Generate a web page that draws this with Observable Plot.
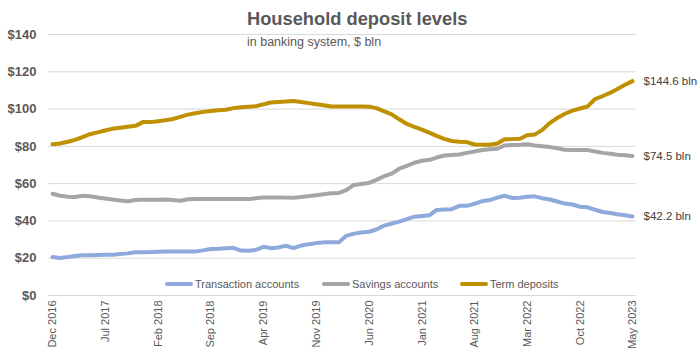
<!DOCTYPE html>
<html>
<head>
<meta charset="utf-8">
<script src="https://cdn.jsdelivr.net/npm/d3@7"></script>
<script src="https://cdn.jsdelivr.net/npm/@observablehq/plot@0.6"></script>
<style>
  body { margin: 0; background: #fff; font-family: "Liberation Sans", Arial, sans-serif; }
  #wrap { position: relative; width: 699px; height: 357px; overflow: hidden; }
  #title { position: absolute; left: 247px; top: 8px; font-weight: bold; font-size: 18.3px; color: #595959; white-space: nowrap; }
  #subtitle { position: absolute; left: 247px; top: 35px; font-size: 12.5px; color: #595959; white-space: nowrap; }
  #legend { position: absolute; top: 278px; left: 0; width: 699px; height: 16px; font-size: 11px; color: #595959; }
  .item { position: absolute; display: flex; align-items: center; white-space: nowrap; }
  .sw { display: inline-block; width: 28px; height: 4px; border-radius: 2px; margin-right: 2px; }
</style>
</head>
<body>
<div id="wrap">
  <div id="chart"></div>
  <div id="title">Household deposit levels</div>
  <div id="subtitle">in banking system, $ bln</div>
  <div id="legend"></div>
</div>
<script>
// Categories: monthly, Dec 2016 .. May 2023
const firstMonth = "2016-12";
const lastMonth = "2023-05";
const xTickLabels = ["Dec 2016","Jul 2017","Feb 2018","Sep 2018","Apr 2019","Nov 2019","Jun 2020","Jan 2021","Aug 2021","Mar 2022","Oct 2022","May 2023"];
const yTicks = [0, 20, 40, 60, 80, 100, 120, 140];

const seriesNames = ["Transaction accounts", "Savings accounts", "Term deposits"];
const seriesColors = ["#8EA9DB", "#A5A5A5", "#BF9000"];
const endLabels = ["$42.2 bln", "$74.5 bln", "$144.6 bln"];

const transaction = [20.7,20.1,20.6,21.2,21.6,21.6,21.7,21.8,21.8,22.2,22.6,23.2,23.2,23.3,23.5,23.6,23.6,23.6,23.6,23.6,
  24.2,24.9,25.1,25.4,25.6,24.1,24.0,24.4,26.1,25.4,25.8,26.7,25.4,26.8,27.5,28.1,28.5,28.5,28.5,32.0,
  33.2,33.8,34.2,35.4,37.5,38.6,39.6,41.0,42.3,42.7,43.1,45.9,46.1,46.3,48.1,48.1,49.2,50.6,51.2,52.5,
  53.5,52.3,52.4,53.0,53.2,52.2,51.5,50.4,49.3,48.8,47.6,47.3,46.0,44.8,44.3,43.6,43.0,42.4];
const savings = [54.6,53.5,53.0,52.8,53.5,53.2,52.6,52.0,51.5,51.0,50.6,51.2,51.4,51.4,51.4,51.5,51.2,50.8,51.6,51.7,
  51.7,51.7,51.7,51.7,51.7,51.7,51.7,52.2,52.6,52.6,52.6,52.5,52.4,52.8,53.3,53.8,54.3,54.8,55.0,56.5,
  59.3,59.8,60.4,62.0,64.0,65.4,68.0,69.5,71.2,72.3,72.8,74.0,75.1,75.4,75.6,76.5,77.2,78.0,78.5,78.7,
  80.5,80.7,80.8,81.1,80.5,80.1,79.6,79.0,78.2,78.0,78.0,78.0,77.2,76.5,76.0,75.5,75.2,74.8];
const term = [81.1,81.5,82.5,83.5,85.0,86.5,87.5,88.5,89.5,90.0,90.5,91.0,93.0,93.0,93.5,94.0,94.7,95.8,97.0,97.8,
  98.5,99.0,99.4,99.6,100.5,101.0,101.3,101.5,102.5,103.5,103.8,104.0,104.3,103.8,103.2,102.6,102.0,101.4,101.4,101.4,
  101.4,101.4,101.3,100.5,98.8,97.2,94.5,92.0,90.5,89.0,87.2,85.6,84.0,82.9,82.5,82.3,81.0,80.9,80.9,81.5,
  83.8,83.9,84.1,86.0,86.3,88.7,92.5,95.2,97.5,99.2,100.3,101.4,105.4,107.0,108.8,110.8,113.0,115.0];

const parseYM = d3.utcParse("%Y-%m");
const parseLabel = d3.utcParse("%b %Y");
const months = d3.utcMonth.range(parseYM(firstMonth), d3.utcMonth.offset(parseYM(lastMonth), 1));
const seriesValues = [transaction, savings, term];

const rows = [];
seriesNames.forEach((name, s) => {
  months.forEach((date, i) => rows.push({series: name, date, value: seriesValues[s][i]}));
});
const lastRows = seriesNames.map((name, s) => ({
  series: name, date: months[months.length - 1], value: seriesValues[s][months.length - 1], label: endLabels[s]
}));

const chart = Plot.plot({
  width: 699,
  height: 357,
  marginLeft: 48,
  marginRight: 63,
  marginTop: 34,
  marginBottom: 62,
  insetLeft: 4,
  insetRight: 4,
  style: { fontFamily: "'Liberation Sans', Arial, sans-serif", background: "#fff" },
  x: { type: "utc", domain: [months[0], months[months.length - 1]] },
  y: { domain: [0, 140] },
  color: { domain: seriesNames, range: seriesColors },
  marks: [
    Plot.ruleY(yTicks, { stroke: "#d9d9d9", strokeWidth: 1 }),
    Plot.axisY({ ticks: yTicks, tickSize: 0, tickPadding: 12, tickFormat: d => "$" + d, fontSize: 13, fontWeight: "bold", fill: "#595959", label: null }),
    Plot.axisX({ ticks: xTickLabels.map(parseLabel), tickSize: 0, tickPadding: 5, tickRotate: -90, tickFormat: d3.utcFormat("%b %Y"), fontSize: 11, fill: "#595959", label: null }),
    Plot.line(rows, { x: "date", y: "value", z: "series", stroke: "series", strokeWidth: 4, strokeLinecap: "round", strokeLinejoin: "round" }),
    Plot.text(lastRows, { x: "date", y: "value", text: "label", textAnchor: "start", dx: 11, fontSize: 11.5, fill: "#404040" })
  ]
});
document.getElementById("chart").appendChild(chart);

// Legend (inside the plot area, as in the reference)
const legendPos = [165, 322, 460];
const legend = document.getElementById("legend");
seriesNames.forEach((name, i) => {
  const item = document.createElement("div");
  item.className = "item";
  item.style.left = legendPos[i] + "px";
  const sw = document.createElement("span");
  sw.className = "sw";
  sw.style.background = seriesColors[i];
  item.appendChild(sw);
  item.appendChild(document.createTextNode(name));
  legend.appendChild(item);
});
</script>
</body>
</html>
